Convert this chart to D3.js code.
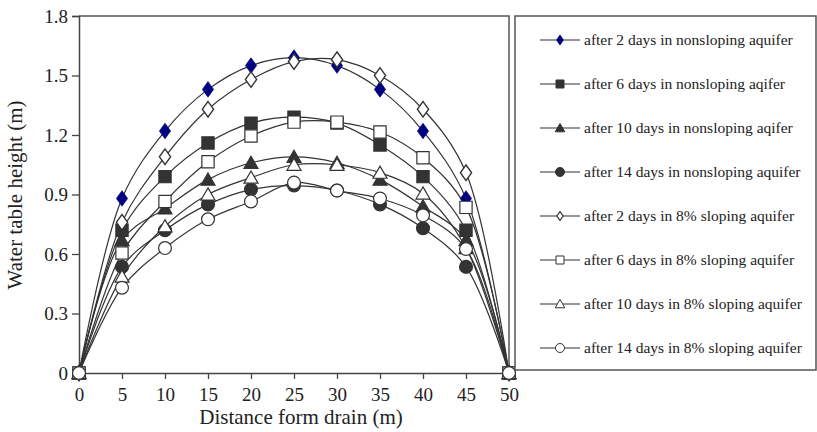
<!DOCTYPE html>
<html>
<head>
<meta charset="utf-8">
<script src="https://cdn.jsdelivr.net/npm/d3@7"></script>
<style>
  body { margin: 0; background: #fff; }
  svg { display: block; font-family: "Liberation Serif", "DejaVu Serif", serif; }
</style>
</head>
<body>
<svg id="chart" width="817" height="432"></svg>
<script>
// distances from drain (m)
var distances = [0, 5, 10, 15, 20, 25, 30, 35, 40, 45, 50];

// water table heights (m)
var day2Flat   = [0, 0.88, 1.22, 1.43, 1.55, 1.59, 1.55, 1.43, 1.22, 0.88, 0];
var day6Flat   = [0, 0.72, 0.99, 1.16, 1.26, 1.29, 1.26, 1.15, 0.99, 0.72, 0];
var day10Flat  = [0, 0.67, 0.83, 0.975, 1.06, 1.09, 1.06, 0.975, 0.84, 0.67, 0];
var day14Flat  = [0, 0.535, 0.72, 0.85, 0.925, 0.945, 0.92, 0.85, 0.73, 0.535, 0];
var day2Slope  = [0, 0.76, 1.09, 1.33, 1.48, 1.57, 1.58, 1.50, 1.33, 1.01, 0];
var day6Slope  = [0, 0.605, 0.865, 1.065, 1.195, 1.265, 1.265, 1.215, 1.085, 0.835, 0];
var day10Slope = [0, 0.486, 0.74, 0.90, 0.985, 1.05, 1.05, 1.01, 0.905, 0.63, 0];
var day14Slope = [0, 0.43, 0.63, 0.775, 0.865, 0.96, 0.92, 0.88, 0.795, 0.625, 0];

var seriesNames = [
  'after 2 days in nonsloping aquifer',
  'after 6 days in nonsloping aqifer',
  'after 10 days in nonsloping aqifer',
  'after 14 days in nonsloping aquifer',
  'after 2 days in 8% sloping aquifer',
  'after 6 days in 8% sloping aquifer',
  'after 10 days in 8% sloping aquifer',
  'after 14 days in 8% sloping aquifer'
];
var seriesValues = [day2Flat, day6Flat, day10Flat, day14Flat, day2Slope, day6Slope, day10Slope, day14Slope];
var markerShapes = ['diamond', 'square', 'triangle', 'circle', 'diamond', 'square', 'triangle', 'circle'];
var markerFills = ['#000080', '#333', '#333', '#333', '#fff', '#fff', '#fff', '#fff'];

var yTicks = [0, 0.3, 0.6, 0.9, 1.2, 1.5, 1.8];
var xTicks = [0, 5, 10, 15, 20, 25, 30, 35, 40, 45, 50];

var svg = d3.select('#chart');
var plot = { left: 79, right: 509, top: 16, bottom: 373 };

var x = d3.scaleLinear().domain([0, 50]).range([plot.left, plot.right]);
var y = d3.scaleLinear().domain([0, 1.8]).range([plot.bottom, plot.top]);

// marker symbol paths
var symbolPath = {
  diamond: d3.symbol().type(d3.symbolDiamond).size(70)(),
  square: d3.symbol().type(d3.symbolSquare).size(150)(),
  triangle: d3.symbol().type(d3.symbolTriangle).size(85)(),
  circle: d3.symbol().type(d3.symbolCircle).size(130)()
};
var legendPath = {
  diamond: d3.symbol().type(d3.symbolDiamond).size(24)(),
  square: d3.symbol().type(d3.symbolSquare).size(64)(),
  triangle: d3.symbol().type(d3.symbolTriangle).size(40)(),
  circle: d3.symbol().type(d3.symbolCircle).size(64)()
};

// plot frame (top and right)
svg.append('path')
  .attr('d', `M${plot.left},${plot.top}H${plot.right}V${plot.bottom}`)
  .attr('fill', 'none')
  .attr('stroke', '#555')
  .attr('stroke-width', 1.5);

// axes
var xAxis = svg.append('g')
  .attr('transform', `translate(0,${plot.bottom})`)
  .call(d3.axisBottom(x).tickValues(xTicks).tickSize(6).tickPadding(9).tickFormat(d3.format('d')));
var yAxis = svg.append('g')
  .attr('transform', `translate(${plot.left},0)`)
  .call(d3.axisLeft(y).tickValues(yTicks).tickSize(7).tickPadding(4).tickFormat(d => d === 0 ? '0' : d3.format('.1f')(d)));

[xAxis, yAxis].forEach(function(g) {
  g.select('.domain').attr('stroke', '#444').attr('stroke-width', 1.5);
  g.selectAll('.tick line').attr('stroke', '#444').attr('stroke-width', 1.3);
  g.selectAll('.tick text')
    .attr('fill', '#222')
    .style('font-family', '"Liberation Serif", serif')
    .style('font-size', '19px');
});
yAxis.selectAll('.tick text').attr('dy', '0.34em');

// axis titles
svg.append('text')
  .attr('x', 301)
  .attr('y', 424)
  .attr('text-anchor', 'middle')
  .attr('font-size', '21px')
  .attr('fill', '#222')
  .text('Distance form drain (m)');
svg.append('text')
  .attr('transform', 'translate(22,195) rotate(-90)')
  .attr('text-anchor', 'middle')
  .attr('font-size', '21px')
  .attr('fill', '#222')
  .text('Water table height (m)');

// lines
var line = d3.line()
  .x((d, i) => x(distances[i]))
  .y(d => y(d))
  .curve(d3.curveCatmullRom.alpha(0.5));

var lines = svg.append('g');
seriesValues.forEach(function(vals) {
  lines.append('path')
    .attr('d', line(vals))
    .attr('fill', 'none')
    .attr('stroke', '#333')
    .attr('stroke-width', 1.2);
});

// markers
seriesValues.forEach(function(vals, s) {
  svg.append('g')
    .selectAll('path')
    .data(vals)
    .join('path')
    .attr('transform', (d, i) => {
      var shape = markerShapes[s];
      var dy = shape === 'triangle' ? 1.5 : 0;
      var sx = shape === 'diamond' ? 'scale(1.25,1)' : '';
      return `translate(${x(distances[i])},${y(d) + dy}) ${sx}`;
    })
    .attr('d', symbolPath[markerShapes[s]])
    .attr('fill', markerFills[s])
    .attr('stroke', s === 0 ? '#000080' : '#333')
    .attr('stroke-width', s === 0 ? 0.6 : 1.2);
});

// legend
var legend = svg.append('g');
legend.append('rect')
  .attr('x', 515)
  .attr('y', 16)
  .attr('width', 301)
  .attr('height', 354)
  .attr('fill', '#fff')
  .attr('stroke', '#555')
  .attr('stroke-width', 1.5);

var legendY = d3.scalePoint().domain(d3.range(8)).range([40, 348]);
seriesNames.forEach(function(name, s) {
  var ly = legendY(s);
  legend.append('line')
    .attr('x1', 540).attr('x2', 580)
    .attr('y1', ly).attr('y2', ly)
    .attr('stroke', '#333')
    .attr('stroke-width', 1.2);
  var shape = markerShapes[s];
  legend.append('path')
    .attr('transform', `translate(560,${ly + (shape === 'triangle' ? 1 : 0)}) ${shape === 'diamond' ? 'scale(1.2,1)' : ''}`)
    .attr('d', legendPath[shape])
    .attr('fill', markerFills[s])
    .attr('stroke', s === 0 ? '#000080' : '#333')
    .attr('stroke-width', 1);
  legend.append('text')
    .attr('x', 584)
    .attr('y', ly)
    .attr('dy', '0.35em')
    .attr('font-size', '15.5px')
    .attr('fill', '#222')
    .text(name);
});
</script>
</body>
</html>
